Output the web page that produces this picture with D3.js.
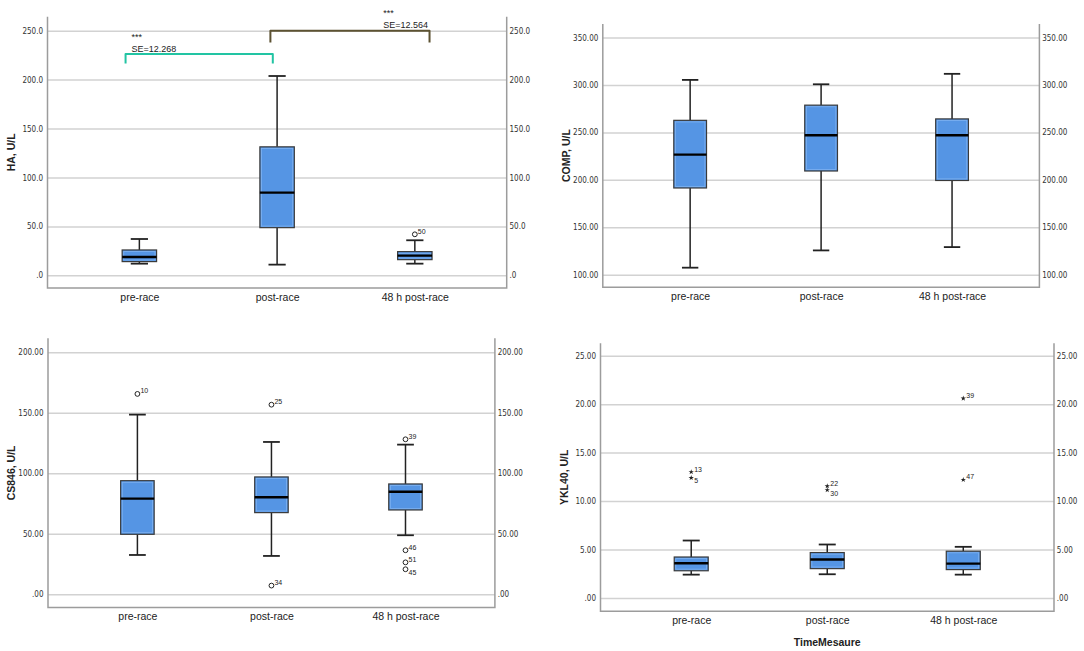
<!DOCTYPE html>
<html>
<head>
<meta charset="utf-8">
<script src="https://cdn.jsdelivr.net/npm/d3@7"></script>
<style>
    html, body { margin: 0; padding: 0; background: #fff; }
    svg { display: block; }
    .tick-label { font-family: 'Liberation Sans Narrow', 'DejaVu Sans Condensed', sans-serif; font-size: 8px; fill: #333; }
    .cat-label { font-family: 'Liberation Sans', Arial, sans-serif; font-size: 10.5px; fill: #222; }
    .axis-title { font-family: 'Liberation Sans', Arial, sans-serif; font-size: 10.5px; font-weight: bold; fill: #222; }
    .out-label { font-family: 'Liberation Sans', Arial, sans-serif; font-size: 7px; fill: #222; }
    .sig-label { font-family: 'Liberation Sans', Arial, sans-serif; font-size: 9px; fill: #222; }
</style>
</head>
<body>
<div id="chart"></div>
<script>
// Categories on every x axis
const categories = ['pre-race', 'post-race', '48 h post-race'];

// Box summaries per category: [lower whisker, Q1, median, Q3, upper whisker]
const haBoxes = [[11.9, 14.0, 18.7, 25.9, 37.1], [10.9, 48.7, 84.5, 131.3, 203.7], [11.9, 16.0, 20.1, 24.2, 35.8]];
const compBoxes = [[107.4, 191.4, 226.6, 262.7, 305.3], [125.6, 209.3, 246.9, 278.7, 300.7], [129.1, 199.3, 246.9, 264.2, 311.7]];
const csBoxes = [[32.5, 49.6, 79.1, 93.9, 148.5], [31.7, 67.5, 80.2, 97.0, 125.9], [48.8, 69.7, 84.8, 91.2, 123.7]];
const yklBoxes = [[2.41, 2.81, 3.58, 4.23, 5.93], [2.45, 3.03, 3.97, 4.69, 5.52], [2.41, 2.93, 3.55, 4.83, 5.28]];

// Outliers / extremes: [category index, value, case id]
const haOutliers = [[2, 41.9, '50']];
const compOutliers = [];
const csOutliers = [[0, 165.6, '10'], [1, 156.7, '25'], [1, 7.2, '34'], [2, 128.1, '39'], [2, 36.4, '46'], [2, 26.4, '51'], [2, 20.7, '45']];
const yklOutliers = [[0, 13.0, '13'], [0, 12.4, '5'], [1, 11.55, '22'], [1, 11.14, '30'], [2, 20.6, '39'], [2, 12.2, '47']];

// Axis ticks and their SPSS-style labels
const haTicks = [0, 50, 100, 150, 200, 250];
const haTickLabels = ['.0', '50.0', '100.0', '150.0', '200.0', '250.0'];
const compTicks = [100, 150, 200, 250, 300, 350];
const compTickLabels = ['100.00', '150.00', '200.00', '250.00', '300.00', '350.00'];
const csTicks = [0, 50, 100, 150, 200];
const csTickLabels = ['.00', '50.00', '100.00', '150.00', '200.00'];
const yklTicks = [0, 5, 10, 15, 20, 25];
const yklTickLabels = ['.00', '5.00', '10.00', '15.00', '20.00', '25.00'];

// Pairwise comparisons on HA: [from category, to category, bracket top, bracket foot]
const haPairs = [[0, 1, 226.1, 216.6], [1, 2, 250.0, 238.0]];
const haPairStars = ['***', '***'];
const haPairSE = ['SE=12.268', 'SE=12.564'];

const width = 1084;
const height = 651;

const svg = d3.select('#chart')
    .append('svg')
    .attr('width', width)
    .attr('height', height);

// Panel layout (frame in pixels, y range for first/last tick)
const panels = [
    { title: 'HA, U/L', boxes: haBoxes, outliers: haOutliers, ticks: haTicks, tickLabels: haTickLabels,
      frame: { left: 47.5, right: 506.7, top: 16.7, bottom: 288 }, yRange: [275.3, 30.7], mark: 'circle' },
    { title: 'COMP, U/L', boxes: compBoxes, outliers: compOutliers, ticks: compTicks, tickLabels: compTickLabels,
      frame: { left: 602.8, right: 1039.4, top: 24, bottom: 287.3 }, yRange: [274.7, 37.5], mark: 'circle' },
    { title: 'CS846, U/L', boxes: csBoxes, outliers: csOutliers, ticks: csTicks, tickLabels: csTickLabels,
      frame: { left: 48, right: 494.9, top: 338.3, bottom: 607.5 }, yRange: [594.3, 352.3], mark: 'circle' },
    { title: 'YKL40, U/L', boxes: yklBoxes, outliers: yklOutliers, ticks: yklTicks, tickLabels: yklTickLabels,
      frame: { left: 600.5, right: 1054, top: 343.3, bottom: 611.3 }, yRange: [598, 355.7], mark: 'star',
      xTitle: 'TimeMesaure' }
];

// Case labels SPSS pushed below their marker
const labelsBelow = new Set(['45', '5', '30']);

const boxFill = '#5595e4';
const gridColor = '#d2d2d2';
const frameColor = '#9c9c9c';

function drawPanel(p) {
    const f = p.frame;
    const g = svg.append('g');

    const x = d3.scalePoint()
        .domain(categories)
        .range([f.left, f.right])
        .padding(0.667);

    const y = d3.scaleLinear()
        .domain([p.ticks[0], p.ticks[p.ticks.length - 1]])
        .range(p.yRange);

    const boxW = x.step() * 0.25;
    const capW = boxW / 2;

    // Gridlines
    g.append('g')
        .attr('transform', `translate(${f.left},0)`)
        .call(d3.axisLeft(y).tickValues(p.ticks).tickSize(-(f.right - f.left)).tickFormat(''))
        .call(a => a.select('.domain').remove())
        .call(a => a.selectAll('.tick line').attr('stroke', gridColor).attr('stroke-width', 1.5));

    // Left and right tick labels
    g.append('g')
        .attr('transform', `translate(${f.left},0)`)
        .call(d3.axisLeft(y).tickValues(p.ticks).tickSize(0).tickPadding(4.5).tickFormat((d, i) => p.tickLabels[i]))
        .call(a => a.select('.domain').remove())
        .call(a => a.selectAll('text').attr('class', 'tick-label').attr('font-family', null).attr('font-size', null));

    g.append('g')
        .attr('transform', `translate(${f.right},0)`)
        .call(d3.axisRight(y).tickValues(p.ticks).tickSize(0).tickPadding(2.8).tickFormat((d, i) => p.tickLabels[i]))
        .call(a => a.select('.domain').remove())
        .call(a => a.selectAll('text').attr('class', 'tick-label').attr('font-family', null).attr('font-size', null));

    // Frame: left, right, bottom
    g.append('path')
        .attr('d', `M${f.left},${f.top}V${f.bottom}H${f.right}V${f.top}`)
        .attr('fill', 'none')
        .attr('stroke', frameColor)
        .attr('stroke-width', 1.5);

    // Category axis
    g.append('g')
        .attr('transform', `translate(0,${f.bottom})`)
        .call(d3.axisBottom(x).tickSize(0).tickPadding(5.5))
        .call(a => a.select('.domain').remove())
        .call(a => a.selectAll('text').attr('class', 'cat-label').attr('font-family', null).attr('font-size', null));

    // Y title
    g.append('text')
        .attr('class', 'axis-title')
        .attr('transform', `translate(${f.left - 33},${(f.top + f.bottom) / 2}) rotate(-90)`)
        .attr('text-anchor', 'middle')
        .text(p.title);

    if (p.xTitle) {
        g.append('text')
            .attr('class', 'axis-title')
            .attr('x', (f.left + f.right) / 2)
            .attr('y', f.bottom + 34.5)
            .attr('text-anchor', 'middle')
            .text(p.xTitle);
    }

    // Boxes
    const box = g.selectAll('.box')
        .data(p.boxes)
        .enter()
        .append('g')
        .attr('class', 'box');

    const cx = (d, i) => x(categories[i]);

    box.append('line')
        .attr('x1', cx).attr('x2', cx)
        .attr('y1', d => y(d[0])).attr('y2', d => y(d[1]))
        .attr('stroke', '#222').attr('stroke-width', 1.5);
    box.append('line')
        .attr('x1', cx).attr('x2', cx)
        .attr('y1', d => y(d[3])).attr('y2', d => y(d[4]))
        .attr('stroke', '#222').attr('stroke-width', 1.5);
    [0, 4].forEach(k => {
        box.append('line')
            .attr('x1', (d, i) => cx(d, i) - capW / 2).attr('x2', (d, i) => cx(d, i) + capW / 2)
            .attr('y1', d => y(d[k])).attr('y2', d => y(d[k]))
            .attr('stroke', '#222').attr('stroke-width', 1.8);
    });

    box.append('rect')
        .attr('x', (d, i) => cx(d, i) - boxW / 2)
        .attr('width', boxW)
        .attr('y', d => y(d[3]))
        .attr('height', d => y(d[1]) - y(d[3]))
        .attr('fill', boxFill)
        .attr('stroke', '#3a3a3a')
        .attr('stroke-width', 1.2);
    // light inner edge
    box.append('rect')
        .attr('x', (d, i) => cx(d, i) - boxW / 2 + 1.6)
        .attr('width', boxW - 3.2)
        .attr('y', d => y(d[3]) + 1.6)
        .attr('height', d => Math.max(0, y(d[1]) - y(d[3]) - 3.2))
        .attr('fill', 'none')
        .attr('stroke', '#7fb2f0')
        .attr('stroke-width', 0.8);

    box.append('line')
        .attr('x1', (d, i) => cx(d, i) - boxW / 2).attr('x2', (d, i) => cx(d, i) + boxW / 2)
        .attr('y1', d => y(d[2])).attr('y2', d => y(d[2]))
        .attr('stroke', '#000').attr('stroke-width', 2.4);

    // Outliers
    const out = g.selectAll('.outlier')
        .data(p.outliers)
        .enter()
        .append('g')
        .attr('class', 'outlier')
        .attr('transform', d => `translate(${x(categories[d[0]])},${y(d[1])})`);

    if (p.mark === 'star') {
        out.append('path')
            .attr('d', d3.symbol().type(d3.symbolStar).size(9))
            .attr('fill', '#222');
    } else {
        out.append('circle')
            .attr('r', 2.4)
            .attr('fill', '#fff')
            .attr('stroke', '#222')
            .attr('stroke-width', 1);
    }
    out.append('text')
        .attr('class', 'out-label')
        .attr('x', 3)
        .attr('y', d => labelsBelow.has(d[2]) ? 5.5 : -0.5)
        .text(d => d[2]);

    return { x, y };
}

const scales = panels.map(drawPanel);

// Significance brackets on the HA panel
const haX = scales[0].x;
const haY = scales[0].y;
const pairColors = ['#22c4a3', '#5c5232'];
const pairEnds = [[-13.8, -4.3], [-6.7, 14.7]];
const pairTextAt = [[0, -7.8], [2, -31.7]];

haPairs.forEach((pr, i) => {
    const x1 = haX(categories[pr[0]]) + pairEnds[i][0];
    const x2 = haX(categories[pr[1]]) + pairEnds[i][1];
    svg.append('path')
        .attr('d', `M${x1},${haY(pr[3])}V${haY(pr[2])}H${x2}V${haY(pr[3])}`)
        .attr('fill', 'none')
        .attr('stroke', pairColors[i])
        .attr('stroke-width', 2)
        .attr('stroke-linejoin', 'round');

    const tx = haX(categories[pairTextAt[i][0]]) + pairTextAt[i][1];
    const top = haY(pr[2]);
    svg.append('text')
        .attr('class', 'sig-label')
        .attr('x', tx)
        .attr('y', top - 14.5)
        .text(haPairStars[i]);
    svg.append('text')
        .attr('class', 'sig-label')
        .attr('x', tx)
        .attr('y', top - 2.5)
        .text(haPairSE[i]);
});
</script>
</body>
</html>
